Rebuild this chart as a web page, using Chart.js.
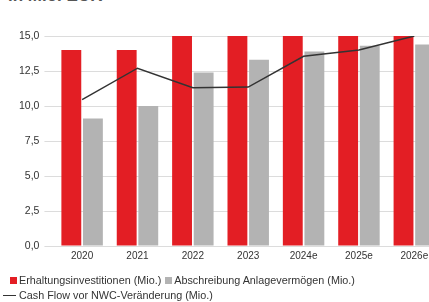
<!DOCTYPE html>
<html>
<head>
<meta charset="utf-8">
<script src="https://cdn.jsdelivr.net/npm/chart.js@4/dist/chart.umd.min.js"></script>
<style>
  html, body { margin: 0; padding: 0; background: #fff; overflow: hidden; width: 429px; height: 302px; }
  #wrap { position: absolute; left: 0; top: 0; width: 450px; height: 276px; }
  #title { position: absolute; left: 8px; top: -13px; font: bold 17px "Liberation Sans", Arial, sans-serif; line-height: 17px; color: #555; white-space: nowrap; }
  #legend { position: absolute; left: 10px; top: 273px; font: 10.8px "Liberation Sans", Arial, sans-serif; color: #333; line-height: 15px; white-space: nowrap; }
  #legend .sw { display: inline-block; width: 7px; height: 7px; margin-right: 2px; vertical-align: 0px; }
  #legend .ln { display: inline-block; width: 13px; height: 0; border-top: 1.5px solid #333; margin-left: -7px; margin-right: 3px; vertical-align: 3px; }
  #legend .item { margin-right: 4px; }
</style>
</head>
<body>
<div id="title">in Mio. EUR</div>
<div id="wrap"><canvas id="chart" width="450" height="276"></canvas></div>
<div id="legend"></div>
<script>
const years = ['2020', '2021', '2022', '2023', '2024e', '2025e', '2026e']
const erhaltung = [14.0, 14.0, 16.0, 16.0, 16.0, 16.0, 16.0]
const abschreibung = [9.1, 10.0, 12.4, 13.3, 13.9, 14.3, 14.4]
const cashFlow = [10.45, 12.7, 11.3, 11.35, 13.55, 14.0, 15.0]
const yTicks = [0, 2.5, 5, 7.5, 10, 12.5, 15]

const red = '#e31e24'
const grey = '#b3b3b3'
const dark = '#333333'

const ctx = document.getElementById('chart')
const chart = new Chart(ctx, {
  type: 'bar',
  data: {
    labels: years,
    datasets: [
      { label: 'Cash Flow vor NWC-Veränderung (Mio.)', data: cashFlow, type: 'line', borderColor: dark, borderWidth: 1.5, tension: 0, pointRadius: 0, order: 0 },
      { label: 'Erhaltungsinvestitionen (Mio.)', data: erhaltung, backgroundColor: red, order: 1 },
      { label: 'Abschreibung Anlagevermögen (Mio.)', data: abschreibung, backgroundColor: grey, order: 2 },
    ]
  },
  options: {
    responsive: false,
    animation: false,
    devicePixelRatio: 1,
    categoryPercentage: 0.78,
    barPercentage: 0.92,
    layout: { padding: { left: 14, top: 36, right: 8, bottom: 10 } },
    scales: {
      x: {
        grid: { display: false, drawTicks: false },
        border: { display: false },
        ticks: { color: dark, font: { size: 10, family: 'Liberation Sans' }, padding: 4, maxRotation: 0 }
      },
      y: {
        min: 0,
        max: 15,
        afterBuildTicks: axis => { axis.ticks = yTicks.map(v => ({ value: v })) },
        grid: { color: '#dcdcdc', tickLength: 10, lineWidth: 1 },
        border: { display: false },
        ticks: {
          color: dark,
          font: { size: 10.5, family: 'Liberation Sans' },
          padding: 5,
          callback: v => v.toFixed(1).replace('.', ',')
        }
      }
    },
    plugins: {
      legend: { display: false },
      tooltip: { enabled: false }
    }
  }
})

// legend in the order shown in the picture
const legend = document.getElementById('legend')
const ds = chart.data.datasets
legend.innerHTML =
  '<div><span class="item"><span class="sw" style="background:' + red + '"></span>' + ds[1].label + '</span>' +
  '<span class="item"><span class="sw" style="background:' + grey + '"></span>' + ds[2].label + '</span></div>' +
  '<div><span class="ln"></span>' + ds[0].label + '</div>'
</script>
</body>
</html>
